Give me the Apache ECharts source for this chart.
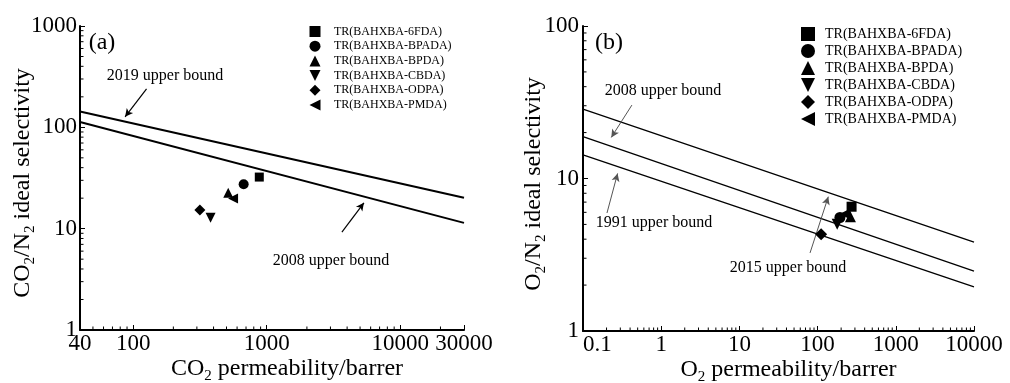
<!DOCTYPE html>
<html>
<head>
<meta charset="utf-8">
<script src="https://cdn.jsdelivr.net/npm/echarts@6/dist/echarts.min.js"></script>
<style>html,body{margin:0;padding:0;background:#fff}#c{width:1010px;height:383px}</style>
</head>
<body>
<div id="c"></div>
<script>
const seriesNames = ['TR(BAHXBA-6FDA)', 'TR(BAHXBA-BPADA)', 'TR(BAHXBA-BPDA)', 'TR(BAHXBA-CBDA)', 'TR(BAHXBA-ODPA)', 'TR(BAHXBA-PMDA)'];
const symbols = ['rect', 'circle', 'triangle', 'path://M0,0L2,0L1,2Z', 'diamond', 'path://M2,0L2,2L0,1Z'];

// (a) CO2/N2
const co2Perm = [880, 672, 515, 380, 316, 560];
const co2n2Sel = [32.3, 27.4, 22.6, 12.8, 15.3, 19.9];
const bound2019CO2 = [[40, 143], [30000, 20.2]];
const bound2008CO2 = [[40, 112.8], [30000, 11.4]];
const arrow2019CO2 = [[126, 239], [87, 127]];
const arrow2008CO2 = [[3656, 9.25], [5344, 18.0]];

// (b) O2/N2
const o2Perm = [272, 193, 263, 178, 111, 224];
const o2n2Sel = [6.53, 5.55, 5.62, 5.01, 4.31, 5.85];
const bound2015O2 = [[0.1, 28.5], [10000, 3.82]];
const bound2008O2 = [[0.1, 18.8], [10000, 2.47]];
const bound1991O2 = [[0.1, 14.3], [10000, 1.95]];
const arrow2008O2 = [[0.422, 30.3], [0.23, 18.6]];
const arrow1991O2 = [[0.2026, 5.94], [0.277, 10.8]];
const arrow2015O2 = [[80, 3.25], [137, 7.6]];

// minor tick positions
const minorXa = [50, 60, 70, 80, 90, 200, 300, 400, 500, 600, 700, 800, 900, 2000, 3000, 4000, 5000, 6000, 7000, 8000, 9000, 20000];
const minorYa = [2, 3, 4, 5, 6, 7, 8, 9, 20, 30, 40, 50, 60, 70, 80, 90, 200, 300, 400, 500, 600, 700, 800, 900];
const minorXb = [0.2, 0.3, 0.4, 0.5, 0.6, 0.7, 0.8, 0.9, 2, 3, 4, 5, 6, 7, 8, 9, 20, 30, 40, 50, 60, 70, 80, 90, 200, 300, 400, 500, 600, 700, 800, 900, 2000, 3000, 4000, 5000, 6000, 7000, 8000, 9000];
const minorYb = [2, 3, 4, 5, 6, 7, 8, 9, 20, 30, 40, 50, 60, 70, 80, 90];

const FONT = '"Liberation Serif", "Times New Roman", serif';

const chart = echarts.init(document.getElementById('c'), null, {renderer: 'canvas'});

function fmt(v) { return String(+Number(v).toPrecision(6)); }

function mainAxis(gridIndex, min, max, pos, extra) {
  return Object.assign({
    type: 'log', logBase: 10, gridIndex, min, max, position: pos,
    nameMoveOverlap: false,
    axisLine: {show: true, onZero: false, lineStyle: {color: '#000', width: 2}},
    axisTick: {show: true, inside: true, length: 5, lineStyle: {color: '#000', width: 1}},
    splitLine: {show: false}
  }, extra || {});
}
function lbl(margin, more) {
  return Object.assign({color: '#000', fontFamily: FONT, fontSize: 23, margin, formatter: fmt}, more || {});
}
const nameRich = {
  a: {fontFamily: FONT, fontSize: 24, color: '#000', lineHeight: 30},
  s: {fontFamily: FONT, fontSize: 15, color: '#000', lineHeight: 15, verticalAlign: 'bottom'}
};

const series = [];
function addScatter(gi, xs, ys, sizes) {
  seriesNames.forEach((n, i) => {
    series.push({
      type: 'scatter', name: n, xAxisIndex: gi, yAxisIndex: gi,
      symbol: symbols[i], symbolSize: sizes[i],
      itemStyle: {color: '#000', opacity: 1},
      data: [[xs[i], ys[i]]], z: 5
    });
  });
}
function addLine(gi, data, width) {
  series.push({
    type: 'line', xAxisIndex: gi, yAxisIndex: gi, data, showSymbol: false, symbol: 'none',
    lineStyle: {color: '#000', width}, silent: true
  });
}
function addArrows(gi, arrows, color, width) {
  series.push({
    type: 'line', xAxisIndex: gi, yAxisIndex: gi, data: [], silent: true,
    markLine: {
      silent: true, symbol: ['none', 'arrow'], symbolSize: [6, 8],
      label: {show: false},
      lineStyle: {color, width, type: 'solid'},
      emphasis: {disabled: true},
      data: arrows.map(a => [{coord: a[0]}, {coord: a[1]}])
    }
  });
}
// minor ticks drawn through the axis scales
function addMinorTicks(gi, vals, dim, base) {
  series.push({
    type: 'custom', xAxisIndex: gi, yAxisIndex: gi, silent: true, z: 3,
    data: vals.map(v => dim === 'x' ? [v, base] : [base, v]),
    renderItem: function (params, api) {
      const cs = params.coordSys;
      const p = api.coord([api.value(0), api.value(1)]);
      if (dim === 'x') {
        const y = cs.y + cs.height;
        return {type: 'line', shape: {x1: p[0], y1: y, x2: p[0], y2: y - 3.5}, style: {stroke: '#000', lineWidth: 1}};
      }
      const x = cs.x;
      return {type: 'line', shape: {x1: x, y1: p[1], x2: x + 3.5, y2: p[1]}, style: {stroke: '#000', lineWidth: 1}};
    }
  });
}

addLine(0, bound2019CO2, 2);
addLine(0, bound2008CO2, 2);
addArrows(0, [arrow2019CO2, arrow2008CO2], '#000', 1.2);
addScatter(0, co2Perm, co2n2Sel, [9, 10, 10, 10, 11, 10]);
addMinorTicks(0, minorXa, 'x', 1);
addMinorTicks(0, minorYa, 'y', 40);

addLine(1, bound2015O2, 1.3);
addLine(1, bound2008O2, 1.3);
addLine(1, bound1991O2, 1.3);
addArrows(1, [arrow2008O2, arrow1991O2, arrow2015O2], '#555', 1);
addScatter(1, o2Perm, o2n2Sel, [10, 11, 11, 11, 12, 11]);
addMinorTicks(1, minorXb, 'x', 1);
addMinorTicks(1, minorYb, 'y', 0.1);

function txt(x, y, text, size) {
  return {type: 'text', x, y, z: 10, style: {text, fontFamily: FONT, fontSize: size, fill: '#000', align: 'center', verticalAlign: 'middle'}};
}

chart.setOption({
  animation: false,
  backgroundColor: '#fff',
  grid: [
    {left: 80, top: 26, right: 546, bottom: 53, containLabel: false, outerBoundsMode: 'none'},
    {left: 583, top: 26, right: 36, bottom: 52, containLabel: false, outerBoundsMode: 'none'}
  ],
  xAxis: [
    mainAxis(0, 40, 30000, 'bottom', {
      name: '{a|CO}{s|2}{a| permeability/barrer}', nameLocation: 'middle', nameGap: 24,
      nameTextStyle: {rich: nameRich, padding: [0, 0, 0, 30]},
      axisLabel: lbl(2)
    }),
    mainAxis(1, 0.1, 10000, 'bottom', {
      name: '{a|O}{s|2}{a| permeability/barrer}', nameLocation: 'middle', nameGap: 24,
      nameTextStyle: {rich: nameRich, padding: [0, 0, 0, 20]},
      axisLabel: lbl(2, {alignMinLabel: 'left'})
    })
  ],
  yAxis: [
    mainAxis(0, 1, 1000, 'left', {
      name: '{a|CO}{s|2}{a|/N}{s|2}{a| ideal selectivity}', nameLocation: 'middle', nameGap: 42, nameRotate: 90,
      nameTextStyle: {rich: nameRich, padding: [0, 10, 0, 0]},
      axisLabel: lbl(3)
    }),
    mainAxis(1, 1, 100, 'left', {
      name: '{a|O}{s|2}{a|/N}{s|2}{a| ideal selectivity}', nameLocation: 'middle', nameGap: 34, nameRotate: 90,
      nameTextStyle: {rich: nameRich, padding: [0, 11, 0, 0]},
      axisLabel: lbl(4)
    })
  ],
  legend: [
    {
      data: seriesNames, orient: 'vertical', left: 309.5, top: 25.5, padding: 0,
      itemWidth: 11, itemHeight: 11, itemGap: 2.7, selectedMode: false,
      textStyle: {fontFamily: FONT, fontSize: 12, color: '#000', padding: [0, 0, 0, 8.5]}
    },
    {
      data: seriesNames, orient: 'vertical', left: 801, top: 27, padding: 0,
      itemWidth: 14, itemHeight: 14, itemGap: 3.0, selectedMode: false,
      textStyle: {fontFamily: FONT, fontSize: 14, color: '#000', padding: [0, 0, 0, 5]}
    }
  ],
  graphic: [
    txt(102, 43, '(a)', 24),
    txt(165, 76, '2019 upper bound', 16),
    txt(331, 261, '2008 upper bound', 16),
    txt(609, 43, '(b)', 24),
    txt(663, 91, '2008 upper bound', 16),
    txt(654, 223, '1991 upper bound', 16),
    txt(788, 268, '2015 upper bound', 16)
  ],
  series
});
</script>
</body>
</html>
